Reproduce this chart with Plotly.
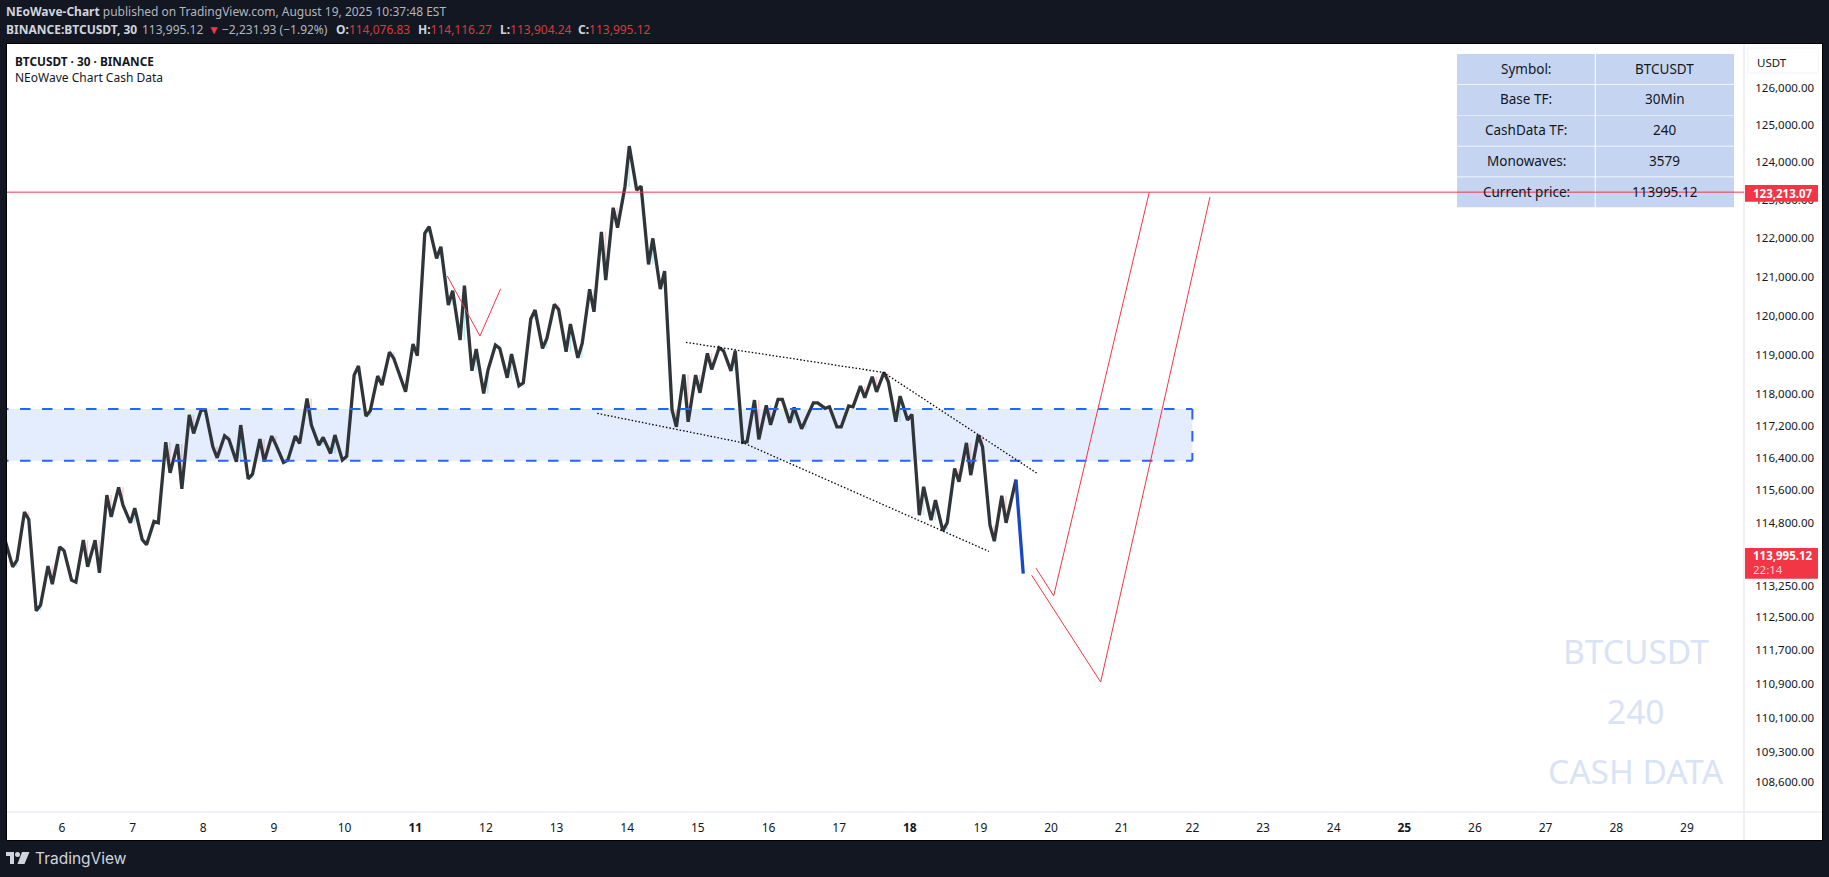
import plotly.graph_objects as go

W, H = 1829, 877
L, R, T, B = 7, 1744, 44, 812
FONT = "Noto Sans"
INK = "#131722"
RED = "#f23645"

# ---- data -------------------------------------------------------------
first_bar_day = 5.3018      # time of the first 4h bar on the day axis
bars_per_day = 6
second_print_offset = 0.0613
lead_in_day, lead_in_price = 5.19, 114390

# Each 4h cash-data bar contributes two prices in time order.
cash_first = [
    113717, 115056, 112651, 113734, 114204, 113393, 114369, 114369, 115476, 115666,
    114793, 114385, 114827, 116793, 116743, 117478, 117596, 116675, 116951, 116301,
    115879, 116868, 116944, 116287, 116944, 117891, 116718, 116510, 116344, 118481,
    117445, 118456, 119066, 118355, 119271, 122131, 121479, 120270, 119373, 118590,
    118018, 119244, 118413, 118210, 119910, 119161, 120289, 119074, 118921, 120676,
    122172, 122802, 123355, 123267, 121323, 120683, 117596, 118499, 118481, 119033,
    119176, 118590, 116785, 117848, 117714, 117866, 117277, 117126, 117780, 117639,
    117177, 117704, 118202, 118438, 118549, 117302, 117345, 114982, 114859, 114596,
    116137, 116775, 116969, 114736, 115458, 115599,
]
cash_second = [
    113879, 114876, 112788, 113296, 114106, 113344, 113717, 113570, 114940, 115228,
    115154, 114253, 114793, 116028, 115631, 117011, 117596, 116401, 116861, 117220,
    115995, 116311, 116718, 116344, 116761, 117220, 116911, 116969, 116443, 118710,
    117579, 118227, 118905, 118058, 118972, 122304, 121781, 120639, 120769, 119142,
    118608, 119161, 119015, 118286, 120142, 119416, 120159, 119782, 119288, 120098,
    120916, 122277, 124433, 123373, 122000, 121149, 117177, 117302, 118033, 118626,
    119099, 119099, 116801, 116861, 117227, 117866, 117664, 117370, 117780, 117679,
    117177, 117679, 117907, 118058, 118311, 117949, 117488, 115680, 115351, 114793,
    115805, 115971, 116675, 114343, 114793,
]
last_leg_days = [19.503, 19.606]
last_leg_prices = [115857, 113554]

resistance_price = 123213.07
last_price = 113995.12
zone_days = [4.783, 22.0]
zone_top, zone_bottom = 117622, 116327

upper_days = [14.832, 17.625, 19.819]
upper_prices = [119313, 118549, 115995]
lower_days = [13.577, 15.643, 19.121]
lower_prices = [117513, 116775, 114092]

v_days = [11.454, 11.916, 12.209]
v_prices = [121020, 119475, 120691]
proj1_days = [19.786, 20.037, 21.390]
proj1_prices = [113685, 113013, 123213]
proj2_days = [19.725, 20.702, 22.249]
proj2_prices = [113514, 110946, 123083]

day_ticks = list(range(6, 30))
bold_days = [11, 18, 25]
price_ticks = [126000, 125000, 124000, 123000, 122000, 121000, 120000, 119000, 118000,
               117200, 116400, 115600, 114800, 113250, 112500, 111700, 110900, 110100,
               109300, 108600]

table_rows = [("Symbol:", "BTCUSDT"), ("Base TF:", "30Min"), ("CashData TF:", "240"),
              ("Monowaves:", "3579"), ("Current price:", "113995.12")]
watermark = ["BTCUSDT", "240", "CASH DATA"]

# ---- helpers ----------------------------------------------------------
def px(x):
    return (x - L) / (R - L)

def py(y):
    return (B - y) / (B - T)

def text(x, y, s, size=12, color=INK, anchor="left", family=FONT):
    return dict(xref="paper", yref="paper", x=px(x), y=py(y), text=s, showarrow=False,
                xanchor=anchor, yanchor="middle", borderpad=0, borderwidth=0,
                font=dict(family=family, size=size, color=color))

def rect(x0, y0, x1, y1, fill, line=None, layer="below", width=1):
    return dict(type="rect", xref="paper", yref="paper", x0=px(x0), x1=px(x1),
                y0=py(y0), y1=py(y1), fillcolor=fill, layer=layer,
                line=dict(color=line or "rgba(0,0,0,0)", width=width if line else 0))

# ---- series -----------------------------------------------------------
line_x, line_y, up_x, up_y, dn_x, dn_y = [lead_in_day], [lead_in_price], [], [], [], []
for k, p1 in enumerate(cash_first):
    d = first_bar_day + k / bars_per_day
    line_x.append(d)
    line_y.append(p1)
    if k < len(cash_second):
        p2 = cash_second[k]
        line_x.append(d + second_print_offset)
        line_y.append(p2)
        wick = d + second_print_offset / 2 + 0.028
        if p2 >= p1:
            up_x += [wick, wick, None]
            up_y += [p1, p2, None]
        else:
            dn_x += [wick, wick, None]
            dn_y += [p1, p2, None]
line_x.append(last_leg_days[0])
line_y.append(last_leg_prices[0])

fig = go.Figure()
fig.add_trace(go.Scatter(x=[zone_days[0], zone_days[1], zone_days[1], zone_days[0], zone_days[0]],
                         y=[zone_top, zone_top, zone_bottom, zone_bottom, zone_top],
                         mode="lines", fill="toself", fillcolor="#e3edfd",
                         line=dict(width=0)))
fig.add_trace(go.Scatter(x=up_x, y=up_y, mode="lines",
                         line=dict(color="rgba(0,188,212,0.28)", width=1.5)))
fig.add_trace(go.Scatter(x=dn_x, y=dn_y, mode="lines",
                         line=dict(color="rgba(242,54,69,0.25)", width=1.5)))
fig.add_trace(go.Scatter(x=line_x, y=line_y, mode="lines",
                         line=dict(color="#30353a", width=3.3)))
fig.add_trace(go.Scatter(x=last_leg_days, y=last_leg_prices, mode="lines",
                         line=dict(color="#1848c8", width=3.3)))
DASH = dict(color="#2962ff", width=2, dash="10.5px,11.5px")
fig.add_trace(go.Scatter(x=zone_days, y=[zone_top, zone_top], mode="lines", line=DASH))
fig.add_trace(go.Scatter(x=zone_days, y=[zone_bottom, zone_bottom], mode="lines", line=DASH))
fig.add_trace(go.Scatter(x=[zone_days[1], zone_days[1]], y=[zone_top, zone_bottom],
                         mode="lines", line=DASH))
for xs, ys in ((upper_days, upper_prices), (lower_days, lower_prices)):
    fig.add_trace(go.Scatter(x=xs, y=ys, mode="lines",
                             line=dict(color="#000000", width=1.3, dash="1.5px,2px")))
for xs, ys in ((v_days, v_prices), (proj1_days, proj1_prices), (proj2_days, proj2_prices)):
    fig.add_trace(go.Scatter(x=xs, y=ys, mode="lines", line=dict(color=RED, width=1)))
fig.add_trace(go.Scatter(x=[4.783, 30], y=[resistance_price, resistance_price], mode="lines",
                         line=dict(color=RED, width=1)))

# ---- decoration -------------------------------------------------------
shapes = [
    rect(6.5, 43.5, 1822.5, 840.5, "#ffffff", line="#000000"),
    dict(type="line", xref="paper", yref="paper", x0=px(R), x1=px(R), y0=py(T), y1=py(840),
         line=dict(color="#e0e3eb", width=1), layer="below"),
    dict(type="line", xref="paper", yref="paper", x0=px(L), x1=px(1822), y0=py(B), y1=py(B),
         line=dict(color="#e0e3eb", width=1), layer="below"),
    rect(1748, 48, 1818, 73, "#ffffff", line="#f0f3fa"),
    rect(1745, 185, 1818, 201.7, RED, layer="above"),
    rect(1745, 548, 1818, 578.7, RED, layer="above"),
    # TradingView mark
    rect(6, 852, 14, 856, "#d1d4dc", layer="above"),
    rect(10, 856, 14, 864, "#d1d4dc", layer="above"),
    dict(type="circle", xref="paper", yref="paper", x0=px(15), x1=px(20), y0=py(852), y1=py(857),
         fillcolor="#d1d4dc", line=dict(width=0), layer="above"),
    dict(type="path", xref="paper", yref="paper", layer="above", fillcolor="#d1d4dc",
         line=dict(width=0),
         path=f"M {px(22)} {py(852)} L {px(29.5)} {py(852)} L {px(24.5)} {py(864)} L {px(17.5)} {py(864)} Z"),
]
annotations = []

TBL_L, TBL_M, TBL_R, TBL_T, ROW = 1457, 1595.3, 1734, 54, 30.8
for i, (a, b) in enumerate(table_rows):
    y0, y1 = TBL_T + i * ROW, TBL_T + (i + 1) * ROW
    shapes.append(rect(TBL_L, y0, TBL_M - 0.5, y1 - 0.7, "#c5d5f1"))
    shapes.append(rect(TBL_M + 0.5, y0, TBL_R, y1 - 0.7, "#c5d5f1"))
    cy = (y0 + y1) / 2 - 0.8
    annotations.append(text((TBL_L + TBL_M) / 2, cy, a, size=13.5, anchor="center"))
    annotations.append(text((TBL_M + TBL_R) / 2, cy, b, size=13.5, anchor="center"))

for s, y in zip(watermark, (651, 711, 771)):
    annotations.append(text(1636, y, s, size=33.5, color="#d9e3f6", anchor="center"))

GREY = "#b2b5be"
LIGHT = "#d1d4dc"
VAL = "#d43c3f"
annotations += [
    text(6, 12, f'<b><span style="color:{LIGHT}">NEoWave-Chart</span></b> published on TradingView.com, August 19, 2025 10:37:48 EST',
         size=12, color=GREY),
    text(6, 30, f'<b><span style="color:{LIGHT}">BINANCE:BTCUSDT, 30</span></b>', size=12),
    text(141.5, 30, "113,995.12", size=12, color=GREY),
    text(208, 30, "▼", size=12, color=RED),
    text(222, 30, "−2,231.93 (−1.92%)", size=12, color=GREY),
    text(336, 30, f'<b><span style="color:{LIGHT}">O:</span></b><span style="color:{VAL}">114,076.83</span>', size=12),
    text(418, 30, f'<b><span style="color:{LIGHT}">H:</span></b><span style="color:{VAL}">114,116.27</span>', size=12),
    text(500, 30, f'<b><span style="color:{LIGHT}">L:</span></b><span style="color:{VAL}">113,904.24</span>', size=12),
    text(578, 30, f'<b><span style="color:{LIGHT}">C:</span></b><span style="color:{VAL}">113,995.12</span>', size=12),
    text(15, 60.6, "<b>BTCUSDT · 30 · BINANCE</b>", size=11.8),
    text(15, 77.6, "NEoWave Chart Cash Data", size=12),
    text(1757, 62, "USDT", size=11.5),
    text(1753, 193.2, "<b>123,213.07</b>", size=11.5, color="#ffffff"),
    text(1753, 555.6, "<b>113,995.12</b>", size=11.5, color="#ffffff"),
    text(1753, 569.6, "22:14", size=11.5, color="#fcd3d7"),
    text(35, 858, "TradingView", size=15.5, color=LIGHT, family="Inter"),
]

fig.update_layout(
    width=W, height=H, autosize=False,
    margin=dict(l=L, r=W - R, t=T, b=H - B, pad=0),
    paper_bgcolor=INK, plot_bgcolor="#ffffff", showlegend=False,
    font=dict(family=FONT, size=12, color=INK),
    shapes=shapes, annotations=annotations,
    xaxis=dict(range=[5.2215, 29.808], tickmode="array", tickvals=day_ticks,
               ticktext=[f"<b>{d}</b>" if d in bold_days else str(d) for d in day_ticks],
               showgrid=False, zeroline=False, showline=False, ticks="outside", ticklen=5,
               tickcolor="rgba(0,0,0,0)", tickfont=dict(family=FONT, size=12, color=INK)),
    yaxis=dict(type="log", side="right", range=[5.03303, 5.10443], tickmode="array",
               tickvals=price_ticks, ticktext=[f"{p:,.2f}" for p in price_ticks],
               showgrid=False, zeroline=False, showline=False, ticks="outside", ticklen=8,
               tickcolor="rgba(0,0,0,0)", tickfont=dict(family=FONT, size=11.5, color=INK)),
)
fig.write_html("out.html", config={"displayModeBar": False},
               post_script="document.body.style.margin='0';document.body.style.overflow='hidden';")
